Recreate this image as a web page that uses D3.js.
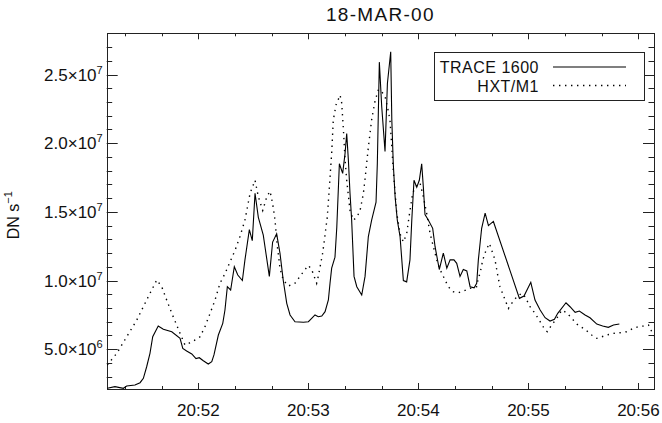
<!DOCTYPE html>
<html lang="en">
<head>
<meta charset="UTF-8">
<title>18-MAR-00</title>
<script src="https://d3js.org/d3.v7.min.js"></script>
<style>
    body { margin: 0; background: #fff; }
    svg { display: block; font-family: "Liberation Sans", Arial, sans-serif; }
    text { fill: #111; }
</style>
</head>
<body>
<script>
// seconds after 20:51:10 UT, values in units of 1e6 DN/s
const traceT = [0.3, 4.5, 9.1, 10.9, 15.4, 18.2, 20.0, 21.8, 23.6, 25.1, 28.1, 30.9, 35.5, 40.0, 41.5, 43.6, 46.4, 48.7, 50.5, 52.7,
    55.4, 57.3, 58.5, 60.9, 63.3, 64.5, 65.8, 67.6, 69.6, 71.5, 74.0, 75.4, 77.8, 79.4, 80.9, 82.7, 85.4, 88.7, 90.5, 92.7,
    94.5, 96.3, 98.2, 100.0, 102.7, 107.3, 110.0, 111.8, 113.6, 115.4, 117.3, 119.1, 120.9, 121.8, 122.7, 124.5, 125.5, 126.9, 128.7, 130.0,
    130.9, 131.8, 132.7, 133.6, 134.9, 136.4, 139.1, 140.9, 142.7, 144.5, 146.9, 147.6, 148.7, 150.0, 151.8, 153.1, 154.9, 155.5, 156.3, 157.3,
    158.5, 160.0, 161.8, 163.6, 165.4, 166.4, 167.6, 169.1, 170.5, 171.8, 172.7, 173.6, 175.4, 177.8, 179.1, 181.4, 183.6, 185.5, 187.3, 189.4,
    190.9, 192.7, 194.5, 196.4, 198.2, 200.4, 201.8, 202.7, 204.5, 206.4, 208.2, 210.9, 225.1, 227.6, 231.3, 233.6, 236.4, 239.1, 241.8, 244.2,
    246.0, 250.5, 252.7, 255.5, 257.8, 260.9, 263.6, 267.3, 270.5, 273.6, 276.4, 279.6];
const traceDN = [2.15, 2.27, 2.15, 2.32, 2.39, 2.56, 2.88, 3.72, 4.70, 5.91, 6.69, 6.45, 6.27, 5.79, 5.06, 4.87, 4.65, 4.31, 4.38, 4.16,
    3.92, 4.09, 4.58, 6.03, 6.88, 7.85, 9.55, 9.31, 11.0, 10.4, 10.0, 11.5, 13.7, 12.9, 16.35, 14.6, 13.3, 10.3, 12.8, 13.4,
    12.0, 10.0, 8.34, 7.49, 7.0, 6.96, 7.0, 7.25, 7.49, 7.36, 7.41, 7.73, 8.58, 9.8, 10.9, 11.7, 13.9, 18.5, 17.8, 19.26,
    20.7, 18.8, 16.35, 14.4, 10.3, 9.55, 8.94, 10.3, 13.2, 14.4, 15.7, 18.5, 25.9, 22.65, 19.4, 24.35, 26.66, 21.7, 18.5, 16.1,
    14.4, 13.2, 10.0, 9.9, 11.5, 14.4, 17.3, 16.8, 17.3, 18.5, 16.8, 14.8, 14.4, 13.8, 12.46, 10.8, 12.0, 10.9, 11.5, 11.5,
    11.25, 10.3, 10.8, 10.7, 9.55, 9.47, 9.8, 11.5, 13.8, 14.9, 14.0, 14.3, 8.7, 8.87, 9.87, 8.58, 7.85, 7.29, 7.05, 7.17,
    7.61, 8.38, 8.09, 7.68, 7.78, 7.49, 7.29, 6.83, 6.69, 6.59, 6.76, 6.83];

const hxtT = [0.3, 5.5, 10.9, 16.4, 21.8, 27.3, 30.0, 32.7, 35.5, 37.8, 40.0, 42.7, 45.4, 48.2, 50.9, 53.6, 56.4, 59.1, 61.8, 64.5,
    67.3, 70.0, 72.7, 75.4, 78.2, 80.9, 82.7, 85.1, 87.3, 89.1, 90.5, 91.8, 93.1, 94.5, 96.3, 99.1, 102.7, 105.4, 108.2, 110.0,
    111.8, 114.5, 115.4, 117.8, 120.3, 122.7, 123.6, 125.1, 127.3, 128.2, 129.1, 130.0, 130.9, 132.7, 134.5, 136.4, 138.2, 140.0, 141.4, 142.7,
    144.5, 146.4, 148.2, 150.0, 151.8, 153.1, 154.5, 155.5, 156.3, 157.3, 158.2, 160.0, 161.8, 163.6, 165.4, 166.9, 168.2, 170.9, 172.7, 174.5,
    176.4, 178.2, 180.0, 181.8, 183.6, 186.3, 189.1, 191.8, 194.5, 197.3, 200.0, 201.8, 202.7, 203.6, 205.1, 206.9, 208.7, 210.0, 211.8, 213.1,
    214.5, 217.3, 219.1, 220.9, 223.7, 226.4, 228.2, 230.9, 233.6, 236.4, 239.1, 240.3, 242.7, 245.5, 248.2, 250.9, 253.6, 256.4, 259.1, 261.8,
    264.5, 267.3, 270.0, 272.7, 276.4, 280.0, 283.6, 287.3, 290.0, 292.7, 295.5, 297.3, 299.1];
const hxtDN = [3.85, 4.7, 5.9, 7.12, 8.58, 10.04, 9.55, 8.58, 7.61, 6.88, 6.15, 5.3, 5.47, 5.67, 5.9, 6.64, 7.61, 8.58, 9.8, 10.5,
    11.37, 12.2, 13.2, 14.4, 16.35, 17.3, 16.1, 15.1, 16.1, 16.5, 15.6, 14.4, 12.46, 10.9, 10.04, 9.6, 9.8, 10.3, 10.8, 11.1,
    10.8, 9.8, 10.3, 12.0, 14.6, 19.26, 21.7, 22.8, 23.5, 22.9, 21.0, 18.8, 17.3, 15.1, 14.4, 14.6, 15.1, 16.35, 18.0, 19.7,
    21.7, 23.1, 23.9, 23.75, 23.4, 22.65, 21.7, 19.7, 18.0, 16.35, 14.9, 13.4, 12.8, 13.4, 15.1, 16.35, 16.8, 17.1, 16.1, 14.9,
    13.4, 12.46, 11.5, 10.8, 10.3, 9.55, 9.18, 9.11, 9.22, 9.4, 9.5, 9.55, 10.2, 10.5, 11.5, 12.2, 12.7, 12.2, 11.5, 10.5,
    9.55, 8.58, 7.97, 8.34, 8.82, 9.07, 8.82, 8.09, 7.61, 7.0, 6.4, 6.27, 6.76, 7.25, 7.85, 7.65, 7.25, 6.83, 6.59, 6.34,
    6.03, 5.79, 5.9, 6.03, 6.15, 6.2, 6.27, 6.52, 6.64, 6.69, 6.76, 6.27, 5.9];

const yTickValues = [5e6, 1e7, 1.5e7, 2e7, 2.5e7];
const seriesNames = ["TRACE 1600", "HXT/M1"];

const width = 662, height = 423;
const margin = { top: 33.3, right: 8, bottom: 34, left: 106.7 };
const x0 = margin.left, x1 = width - margin.right;
const y0 = height - margin.bottom, y1 = margin.top;

const tStart = Date.UTC(2000, 2, 18, 20, 51, 10);
const toDate = s => new Date(tStart + s * 1000);

const x = d3.scaleUtc()
    .domain([toDate(0), toDate(298.5)])
    .range([x0, x1]);
const y = d3.scaleLinear()
    .domain([2.1e6, 2.8e7])
    .range([y0, y1]);

const svg = d3.select("body").append("svg")
    .attr("width", width)
    .attr("height", height);

svg.append("defs").append("clipPath").attr("id", "plotclip")
    .append("rect")
    .attr("x", x0).attr("y", y1)
    .attr("width", x1 - x0).attr("height", y0 - y1);

const axisColor = "#222";
const majorX = d3.utcMinute.every(1).range(toDate(0), toDate(298.5));
const minorX = d3.utcSecond.every(20).range(toDate(0), toDate(298.5))
    .filter(d => d.getUTCSeconds() !== 0);
const minorY = d3.range(3e6, 2.8e7, 1e6).filter(v => v % 5e6 !== 0);

const ticks = svg.append("g").attr("stroke", axisColor).attr("stroke-width", 1);

// x ticks, bottom and top
[[majorX, 6], [minorX, 3]].forEach(([vals, len]) => {
    vals.forEach(d => {
        const px = Math.round(x(d)) + 0.5;
        ticks.append("line").attr("x1", px).attr("x2", px).attr("y1", y0).attr("y2", y0 - len);
        ticks.append("line").attr("x1", px).attr("x2", px).attr("y1", y1).attr("y2", y1 + len);
    });
});

// y ticks, left and right
[[yTickValues, 11], [minorY, 5.5]].forEach(([vals, len]) => {
    vals.forEach(v => {
        const py = Math.round(y(v)) + 0.5;
        ticks.append("line").attr("x1", x0).attr("x2", x0 + len).attr("y1", py).attr("y2", py);
        ticks.append("line").attr("x1", x1).attr("x2", x1 - len).attr("y1", py).attr("y2", py);
    });
});

svg.append("rect")
    .attr("x", Math.round(x0) + 0.5).attr("y", Math.round(y1) + 0.5)
    .attr("width", Math.round(x1 - x0)).attr("height", Math.round(y0 - y1))
    .attr("fill", "none").attr("stroke", axisColor).attr("stroke-width", 1);

// tick labels
const fmt = d3.utcFormat("%H:%M");
svg.append("g").selectAll("text")
    .data(majorX)
    .enter().append("text")
    .attr("x", d => x(d))
    .attr("y", y0 + 27)
    .attr("text-anchor", "middle")
    .attr("font-size", 17)
    .text(d => fmt(d));

const yLab = svg.append("g").selectAll("text")
    .data(yTickValues)
    .enter().append("text")
    .attr("x", x0 - 4)
    .attr("y", d => y(d) + 6)
    .attr("text-anchor", "end")
    .attr("font-size", 17);
yLab.append("tspan").text(d => {
    const e = Math.floor(Math.log10(d));
    return (d / Math.pow(10, e)).toFixed(1) + "\u00d710";
});
yLab.append("tspan")
    .attr("dy", -7)
    .attr("font-size", 11)
    .text(d => Math.floor(Math.log10(d)));

// axis title and plot title
const yTitle = svg.append("text")
    .attr("transform", `translate(19,${(y0 + y1) / 2 + 4}) rotate(-90)`)
    .attr("text-anchor", "middle")
    .attr("font-size", 16);
yTitle.append("tspan").text("DN s");
yTitle.append("tspan").attr("dy", -7).attr("font-size", 11).text("\u22121");

svg.append("text")
    .attr("x", (x0 + x1) / 2)
    .attr("y", 21)
    .attr("text-anchor", "middle")
    .attr("font-size", 19)
    .attr("letter-spacing", 1.3)
    .text("18-MAR-00");

// curves
const line = d3.line()
    .x(d => x(toDate(d[0])))
    .y(d => y(d[1] * 1e6));

const plot = svg.append("g").attr("clip-path", "url(#plotclip)");
plot.append("path")
    .datum(traceT.map((t, i) => [t, traceDN[i]]))
    .attr("fill", "none")
    .attr("stroke", "#000")
    .attr("stroke-width", 1.1)
    .attr("d", line);
plot.append("path")
    .datum(hxtT.map((t, i) => [t, hxtDN[i]]))
    .attr("fill", "none")
    .attr("stroke", "#000")
    .attr("stroke-width", 1.4)
    .attr("stroke-dasharray", "1.4 4.6")
    .attr("d", line);

// legend
const legend = svg.append("g");
legend.append("rect")
    .attr("x", 434.5).attr("y", 52.5).attr("width", 210).attr("height", 48)
    .attr("fill", "#fff").attr("stroke", axisColor).attr("stroke-width", 1);
seriesNames.forEach((name, i) => {
    const ly = 67 + i * 18.5;
    legend.append("text")
        .attr("x", 539)
        .attr("y", ly + 6)
        .attr("text-anchor", "end")
        .attr("font-size", 16)
        .attr("letter-spacing", 0.5)
        .text(name);
    legend.append("line")
        .attr("x1", 553).attr("x2", 626)
        .attr("y1", ly).attr("y2", ly)
        .attr("stroke", "#000")
        .attr("stroke-width", i ? 1.4 : 1.1)
        .attr("stroke-dasharray", i ? "1.4 4.6" : null);
});
</script>
</body>
</html>
